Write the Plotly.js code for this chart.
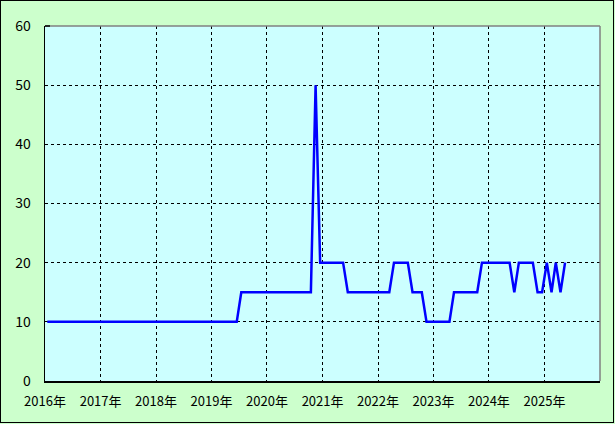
<!DOCTYPE html>
<html>
<head>
<meta charset="utf-8">
<script src="https://cdn.plot.ly/plotly-3.0.1.min.js"></script>
<style>
  html, body { margin: 0; padding: 0; background: #CCFFCC; }
  #frame { width: 612px; height: 421px; border: 1px solid #000; background: #CCFFCC; }
</style>
</head>
<body>
<div id="frame"><div id="chart" style="width:612px;height:421px;"></div></div>
<script>
// ---- data ----
var startYear = 2016;
var startMonth = 1;
var values = [
  10,10,10,10,10,10,10,10,10,10,10,10,   // 2016
  10,10,10,10,10,10,10,10,10,10,10,10,   // 2017
  10,10,10,10,10,10,10,10,10,10,10,10,   // 2018
  10,10,10,10,10,10,15,15,15,15,15,15,   // 2019
  15,15,15,15,15,15,15,15,15,15,50,20,   // 2020
  20,20,20,20,20,15,15,15,15,15,15,15,   // 2021
  15,15,15,20,20,20,20,15,15,15,10,10,   // 2022
  10,10,10,10,15,15,15,15,15,15,20,20,   // 2023
  20,20,20,20,20,15,20,20,20,20,15,15,   // 2024
  20,15,20,15,20                         // 2025
];
var tickYears = ['2016','2017','2018','2019','2020','2021','2022','2023','2024','2025'];
var tickLabels = ['2016年','2017年','2018年','2019年','2020年','2021年','2022年','2023年','2024年','2025年'];
var yTicks = [0,10,20,30,40,50,60];

// month categories (mid-month dates)
var months = values.map(function (v, i) {
  var m = startMonth - 1 + i;
  var y = startYear + Math.floor(m / 12);
  var mm = (m % 12) + 1;
  return y + '-' + (mm < 10 ? '0' + mm : mm) + '-16';
});
var tickVals = tickYears.map(function (y) { return y + '-01-01'; });

var font = { family: '"Noto Sans CJK JP", "DejaVu Sans", sans-serif', size: 13, color: '#000' };

var trace = {
  x: months, y: values, type: 'scatter', mode: 'lines',
  line: { color: '#0000FF', width: 2.5 },
  hoverinfo: 'skip'
};

var layout = {
  width: 612, height: 421,
  margin: { l: 44, r: 13, t: 25, b: 41 },
  paper_bgcolor: '#CCFFCC',
  plot_bgcolor: '#CCFFFF',
  showlegend: false,
  font: font,
  xaxis: {
    type: 'date',
    range: ['2016-01-01', '2026-01-01'],
    tickmode: 'array', tickvals: tickVals, ticktext: tickLabels,
    showgrid: true, gridcolor: '#000', gridwidth: 1, griddash: '3px,3px',
    showline: true, linecolor: '#000', linewidth: 1.5,
    ticks: 'outside', ticklen: 8, tickcolor: 'rgba(0,0,0,0)',
    zeroline: false, tickfont: font
  },
  yaxis: {
    range: [0, 60],
    tickmode: 'array', tickvals: yTicks,
    showgrid: true, gridcolor: '#000', gridwidth: 1, griddash: '3px,3px',
    showline: true, linecolor: '#000', linewidth: 1.5,
    ticks: 'outside', ticklen: 10, tickcolor: 'rgba(0,0,0,0)',
    zeroline: false, tickfont: { family: font.family, size: 14, color: '#000' }
  },
  shapes: [
    { type: 'line', xref: 'paper', yref: 'paper', x0: 0, x1: 1, y0: 1, y1: 1, line: { color: '#808080', width: 1.5 } },
    { type: 'line', xref: 'paper', yref: 'paper', x0: 1, x1: 1, y0: 0, y1: 1, line: { color: '#808080', width: 1.5 } },
    { type: 'line', xref: 'paper', yref: 'paper', x0: 0, x1: 0.009, y0: 1, y1: 1, line: { color: '#000', width: 1.5 } }
  ]
};

Plotly.newPlot('chart', [trace], layout, { staticPlot: true, displayModeBar: false });
</script>
</body>
</html>
